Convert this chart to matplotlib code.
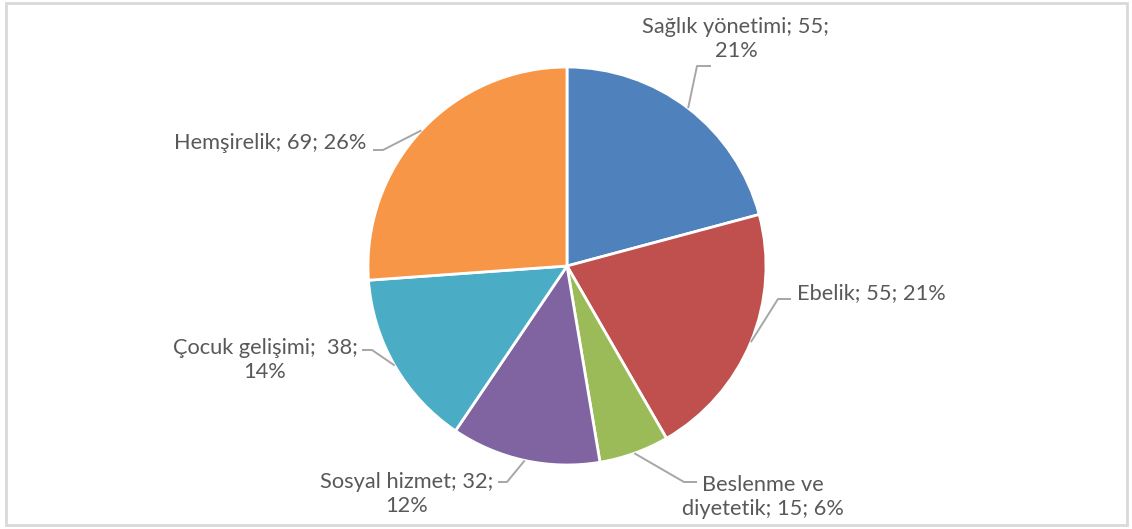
import matplotlib
matplotlib.use("Agg")
import matplotlib.pyplot as plt
import numpy as np
from matplotlib.patches import Rectangle

categories = ["Sağlık yönetimi", "Ebelik", "Beslenme ve diyetetik",
              "Sosyal hizmet", "Çocuk gelişimi", "Hemşirelik"]
values = [55, 55, 15, 32, 38, 69]
colors = ["#4F81BD", "#C0504D", "#9BBB59", "#8064A2", "#4BACC6", "#F79646"]
label_texts = ["Sağlık yönetimi; 55;\n21%", "Ebelik; 55; 21%",
               "Beslenme ve\ndiyetetik; 15; 6%", "Sosyal hizmet; 32;\n12%",
               "Çocuk gelişimi;  38;\n14%", "Hemşirelik; 69; 26%"]

W, H = 1132, 529
fig = plt.figure(figsize=(W / 100, H / 100), dpi=100)
ax = fig.add_axes([0, 0, 1, 1])

def Y(y):
    return H - y

cx, cy, R = 567, Y(266), 199
wedges, _ = ax.pie(values, colors=colors, startangle=90, counterclock=False,
                   center=(cx, cy), radius=R,
                   wedgeprops=dict(edgecolor="white", linewidth=2))

# label layout: (text x, text y (top-origin px), ha, text-side point, elbow point)
layout = [
    (736, 39, "center", (711, 66), (697, 66)),
    (797, 293, "left", (791, 299), (778, 299)),
    (763, 497, "center", (697, 482), (684, 482)),
    (407, 494, "center", (498, 482), (507, 482)),
    (265, 360, "center", (362, 350), (372, 350)),
    (270, 143, "center", (373, 150), (383, 150)),
]

txtcol = "#595959"
linecol = "#A6A6A6"
for w, lab, (tx, ty, ha, p1, p2) in zip(wedges, label_texts, layout):
    mid = np.deg2rad((w.theta1 + w.theta2) / 2)
    ex, ey = cx + R * np.cos(mid), cy + R * np.sin(mid)
    ax.plot([p1[0], p2[0], ex], [Y(p1[1]), Y(p2[1]), ey], color=linecol,
            lw=1.4, solid_capstyle="butt", zorder=3)
    ax.text(tx, Y(ty), lab, ha=ha, va="center", fontsize=15.7, color=txtcol,
            family=["Lato", "DejaVu Sans"], linespacing=1.25, multialignment="center")

ax.add_patch(Rectangle((6, Y(525)), 1121, 522, fill=False, edgecolor="#D9D9D9",
                       lw=2, zorder=5))

ax.set_xlim(0, W)
ax.set_ylim(0, H)
ax.set_aspect("equal", adjustable="box")
ax.axis("off")
fig.savefig("out.png", dpi=100)
